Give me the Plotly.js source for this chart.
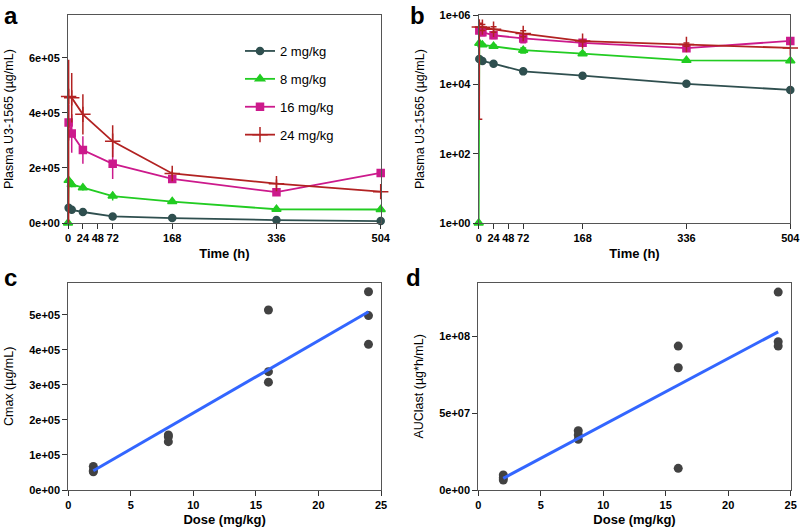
<!DOCTYPE html>
<html>
<head>
<meta charset="utf-8">
<script src="https://cdn.plot.ly/plotly-3.0.1.min.js"></script>
<style>
  html, body { margin: 0; padding: 0; background: #fff; }
  #chart { width: 800px; height: 527px; }
</style>
</head>
<body>
<div id="chart"></div>
<script>
// PK time course (h)
const times = [0, 1, 6, 24, 72, 168, 336, 504];
const timeTicks = [0, 24, 48, 72, 168, 336, 504];

const conc2 = [null, 5.5e4, 4.8e4, 4.0e4, 2.4e4, 1.8e4, 1.05e4, 7.0e3];
const conc2Err = [0, 4e3, 3e3, 3e3, 2e3, 1e3, 0, 0];
const conc8 = [1, 1.55e5, 1.4e5, 1.28e5, 9.8e4, 7.8e4, 5.0e4, 4.9e4];
const conc8Err = [0, 1.2e4, 1e4, 1e4, 1.6e4, 8e3, 3e3, 0];
const conc16 = [null, 3.65e5, 3.25e5, 2.65e5, 2.15e5, 1.6e5, 1.12e5, 1.82e5];
const conc16Err = [0, 6.5e4, 7e4, 5e4, 5.5e4, 1e4, 0, 0];
const conc24 = [null, 4.6e5, 4.55e5, 3.95e5, 2.97e5, 1.8e5, 1.43e5, 1.14e5];
const conc24ErrUp = [0, 1.33e5, 9e4, 7.3e4, 5.8e4, 1e4, 1.5e4, 0];
const conc24ErrDown = [0, 4.59e5, 9e4, 7.3e4, 5.8e4, 1e4, 1.5e4, 0];

// dose vs exposure
const doses = [2, 2, 2, 8, 8, 8, 16, 16, 16, 24, 24, 24];
const cmax = [6.7e4, 5.5e4, 5.2e4, 1.57e5, 1.52e5, 1.38e5, 5.14e5, 3.38e5, 3.08e5, 5.66e5, 4.98e5, 4.16e5];
const auclast = [9.8e6, 8.0e6, 6.5e6, 3.86e7, 3.58e7, 3.3e7, 9.37e7, 7.96e7, 1.41e7, 1.289e8, 9.66e7, 9.37e7];
const fitDose = [2, 24];
const cmaxFit = [5.5e4, 5.09e5];
const aucFit = [7.6e6, 1.03e8];

const linTicks = [0, 2e5, 4e5, 6e5];
const linTickText = ['0e+00', '2e+05', '4e+05', '6e+05'];
const logTicks = [1, 1e2, 1e4, 1e6];
const logTickText = ['1e+00', '1e+02', '1e+04', '1e+06'];
const cmaxTicks = [0, 1e5, 2e5, 3e5, 4e5, 5e5];
const cmaxTickText = ['0e+00', '1e+05', '2e+05', '3e+05', '4e+05', '5e+05'];
const aucTicks = [0, 5e7, 1e8];
const aucTickText = ['0e+00', '5e+07', '1e+08'];
const doseTicks = [0, 5, 10, 15, 20, 25];

const FONT = 'Liberation Sans, Arial, sans-serif';

const groups = [
    {name: '2 mg/kg', y: conc2, up: conc2Err, down: conc2Err, color: '#2f4f4f', symbol: 'circle', size: 7},
    {name: '8 mg/kg', y: conc8, up: conc8Err, down: conc8Err, color: '#22cc22', symbol: 'triangle-up', size: 8},
    {name: '16 mg/kg', y: conc16, up: conc16Err, down: conc16Err, color: '#cc1a8c', symbol: 'square', size: 7},
    {name: '24 mg/kg', y: conc24, up: conc24ErrUp, down: conc24ErrDown, color: '#b22222', symbol: 'cross-thin-open', size: 11}
];

const traces = [];
['x', 'x2'].forEach((xa, k) => {
    groups.forEach(g => {
        traces.push({
            x: times,
            y: g.y,
            xaxis: xa,
            yaxis: k === 0 ? 'y' : 'y2',
            type: 'scatter',
            mode: 'lines+markers',
            name: g.name,
            legendgroup: g.name,
            showlegend: k === 0,
            cliponaxis: false,
            line: {color: g.color, width: 1.8},
            marker: {color: g.color, symbol: g.symbol, size: g.size, line: {color: g.color, width: 1.5}},
            error_y: {type: 'data', array: g.up, arrayminus: g.down, color: g.color,
                thickness: 1.5, width: k === 0 ? 0 : 3}
        });
    });
});

function scatterPts(x, y, xa, ya) {
    return {
        x: x, y: y, xaxis: xa, yaxis: ya, type: 'scatter', mode: 'markers',
        showlegend: false, cliponaxis: false,
        marker: {color: '#424242', size: 9}
    };
}
function fitLine(x, y, xa, ya) {
    return {
        x: x, y: y, xaxis: xa, yaxis: ya, type: 'scatter', mode: 'lines',
        showlegend: false, line: {color: '#3366ff', width: 3}
    };
}
traces.push(scatterPts(doses, cmax, 'x3', 'y3'));
traces.push(fitLine(fitDose, cmaxFit, 'x3', 'y3'));
traces.push(scatterPts(doses, auclast, 'x4', 'y4'));
traces.push(fitLine(fitDose, aucFit, 'x4', 'y4'));

const W = 800, H = 527;
function dx(a, b) { return [a / W, b / W]; }
function dy(top, bottom) { return [(H - bottom) / H, (H - top) / H]; }

const axisBase = {
    showline: true, mirror: true, linecolor: '#555', linewidth: 1,
    ticks: 'outside', ticklen: 5, tickcolor: '#333', tickwidth: 1,
    showgrid: false, zeroline: false, ticklabeloverflow: 'allow', tickangle: 0,
    tickfont: {family: FONT, size: 11, weight: 'bold', color: '#000'}
};
const xTitleFont = {family: FONT, size: 13, weight: 'bold', color: '#000'};
const yTitleFont = {family: FONT, size: 12.5, color: '#000'};

const layout = {
    width: W, height: H,
    margin: {l: 0, r: 0, t: 0, b: 0},
    paper_bgcolor: '#fff', plot_bgcolor: '#fff',
    font: {family: FONT},
    xaxis: Object.assign({}, axisBase, {domain: dx(68, 380.7), anchor: 'y', range: [0, 504],
        tickvals: timeTicks, title: {text: 'Time (h)', font: xTitleFont, standoff: 5}}),
    yaxis: Object.assign({}, axisBase, {domain: dy(15.3, 223), anchor: 'x', range: [0, 7.55e5],
        tickvals: linTicks, ticktext: linTickText, title: {text: 'Plasma U3-1565 (µg/mL)', font: yTitleFont, standoff: 12}}),
    xaxis2: Object.assign({}, axisBase, {domain: dx(478.7, 790.3), anchor: 'y2', range: [0, 504],
        tickvals: timeTicks, title: {text: 'Time (h)', font: xTitleFont, standoff: 5}}),
    yaxis2: Object.assign({}, axisBase, {domain: dy(15.3, 223), anchor: 'x2', type: 'log', range: [0, 6],
        tickvals: logTicks, ticktext: logTickText, title: {text: 'Plasma U3-1565 (µg/mL)', font: yTitleFont, standoff: 12}}),
    xaxis3: Object.assign({}, axisBase, {domain: dx(68.3, 381), anchor: 'y3', range: [0, 25],
        tickvals: doseTicks, title: {text: 'Dose (mg/kg)', font: xTitleFont, standoff: 6}}),
    yaxis3: Object.assign({}, axisBase, {domain: dy(282.7, 490), anchor: 'x3', range: [0, 5.92e5],
        tickvals: cmaxTicks, ticktext: cmaxTickText, title: {text: 'Cmax (µg/mL)', font: yTitleFont, standoff: 12}}),
    xaxis4: Object.assign({}, axisBase, {domain: dx(478.3, 790.7), anchor: 'y4', range: [0, 25],
        tickvals: doseTicks, title: {text: 'Dose (mg/kg)', font: xTitleFont, standoff: 6}}),
    yaxis4: Object.assign({}, axisBase, {domain: dy(282.7, 490), anchor: 'x4', range: [0, 1.35e8],
        tickvals: aucTicks, ticktext: aucTickText, title: {text: 'AUClast (µg*h/mL)', font: yTitleFont, standoff: 12}}),
    legend: {
        x: 240 / W, y: 1 - 36 / H, xanchor: 'left', yanchor: 'top',
        bgcolor: 'rgba(0,0,0,0)', font: {family: FONT, size: 13, color: '#000'},
        tracegroupgap: 8
    },
    annotations: [
        {text: 'a', x: 2 / W, y: 1 - 0 / H},
        {text: 'b', x: 408 / W, y: 1 - 0 / H},
        {text: 'c', x: 2 / W, y: 1 - 262 / H},
        {text: 'd', x: 404 / W, y: 1 - 262 / H}
    ].map(a => Object.assign(a, {
        xref: 'paper', yref: 'paper', xanchor: 'left', yanchor: 'top', showarrow: false,
        font: {family: FONT, size: 24, weight: 'bold', color: '#000'}
    }))
};

Plotly.newPlot('chart', traces, layout, {displayModeBar: false, staticPlot: true});
</script>
</body>
</html>
